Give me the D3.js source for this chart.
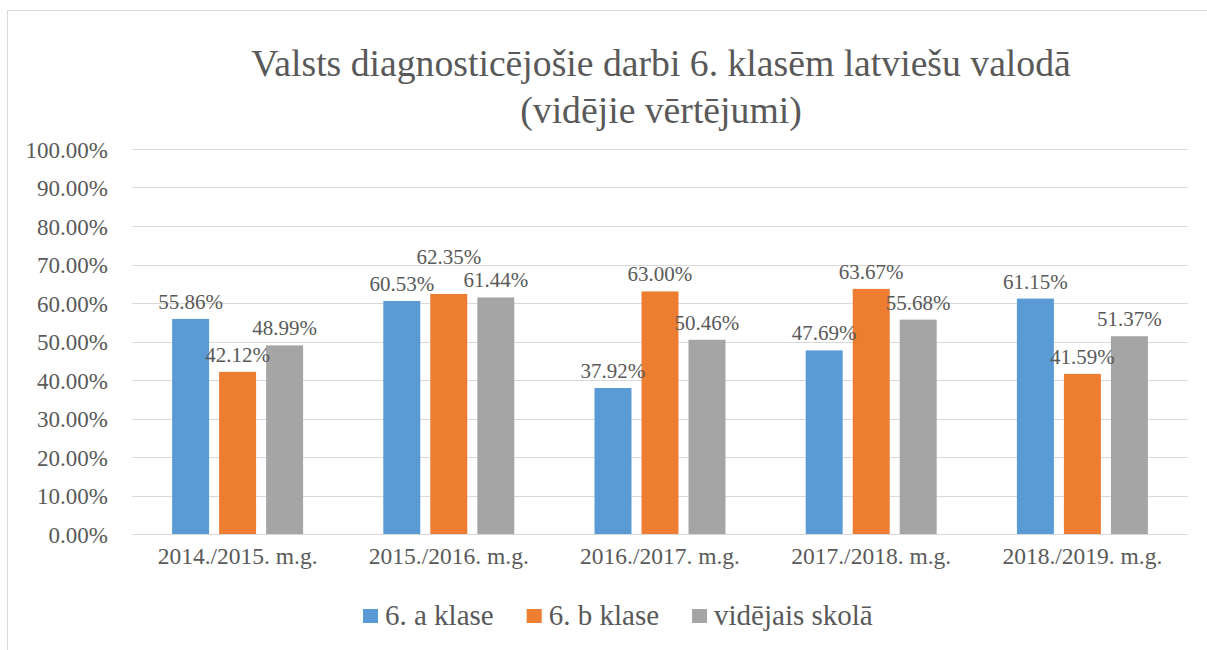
<!DOCTYPE html>
<html>
<head>
<meta charset="utf-8">
<script src="https://cdn.jsdelivr.net/npm/d3@7"></script>
<style>
  body { margin: 0; background: #fff; }
</style>
</head>
<body>
<svg id="chart" width="1207" height="650"></svg>
<script>
// chart data
var years = ["2014./2015. m.g.", "2015./2016. m.g.", "2016./2017. m.g.", "2017./2018. m.g.", "2018./2019. m.g."];
var seriesNames = ["6. a klase", "6. b klase", "vidējais skolā"];
var classA = [55.86, 60.53, 37.92, 47.69, 61.15];
var classB = [42.12, 62.35, 63.00, 63.67, 41.59];
var schoolAvg = [48.99, 61.44, 50.46, 55.68, 51.37];
var yTicks = [0, 10, 20, 30, 40, 50, 60, 70, 80, 90, 100];
var colors = ["#5b9bd5", "#ed7d31", "#a5a5a5"];

var series = [classA, classB, schoolAvg];
var FONT = "'Liberation Serif', 'Times New Roman', Times, serif";
var TXT = "#595959";

var svg = d3.select("#chart");
var margin = { left: 132, right: 19, top: 149, bottom: 116 };
var width = 1207 - margin.left - margin.right,
    height = 650 - margin.top - margin.bottom;

// outer chart border
svg.append("rect")
  .attr("x", 7.5).attr("y", 10.5)
  .attr("width", 1220).attr("height", 660)
  .attr("fill", "none").attr("stroke", "#d9d9d9");

var g = svg.append("g").attr("transform", "translate(" + margin.left + "," + margin.top + ")");

var x0 = d3.scaleBand().domain(years).range([0, width]);
var x1 = d3.scaleBand().domain(d3.range(series.length))
  .range([x0.bandwidth() / 2 - 65.5, x0.bandwidth() / 2 + 65.5]).paddingInner(0.213);
var y = d3.scaleLinear().domain([0, 100]).range([height, 0]);

// gridlines
g.selectAll("line.grid").data(yTicks).enter().append("line")
  .attr("class", "grid")
  .attr("x1", 0).attr("x2", width)
  .attr("y1", function(d) { return Math.round(y(d)) + 0.5; })
  .attr("y2", function(d) { return Math.round(y(d)) + 0.5; })
  .attr("stroke", "#d9d9d9").attr("stroke-width", 1);

// y axis labels
var yAxis = d3.axisLeft(y).tickValues(yTicks).tickSize(0).tickPadding(24)
  .tickFormat(function(d) { return d.toFixed(2) + "%"; });
g.append("g").call(yAxis)
  .call(function(a) { a.select(".domain").remove(); })
  .selectAll("text")
  .style("font-family", FONT).style("font-size", "23px").style("fill", TXT)
  .attr("dy", "0.35em");

// x axis labels
var xAxis = d3.axisBottom(x0).tickSize(0).tickPadding(13);
g.append("g").attr("transform", "translate(0," + height + ")").call(xAxis)
  .call(function(a) { a.select(".domain").remove(); })
  .selectAll("text")
  .style("font-family", FONT).style("font-size", "23.5px").style("fill", TXT)
  .attr("dy", "0.71em");

// bars
var groups = g.selectAll("g.year").data(years).enter().append("g")
  .attr("class", "year")
  .attr("transform", function(d) { return "translate(" + x0(d) + ",0)"; });

function rows(d, i) {
  return series.map(function(s, k) { return { k: k, v: s[i] }; });
}

groups.selectAll("rect").data(rows).enter().append("rect")
  .attr("x", function(d) { return x1(d.k); })
  .attr("width", x1.bandwidth())
  .attr("y", function(d) { return y(d.v); })
  .attr("height", function(d) { return height - y(d.v); })
  .attr("fill", function(d) { return colors[d.k]; });

// data labels: above the bar, lifted when they collide with a neighbour
groups.each(function(yr, i) {
  var grp = d3.select(this);
  var labels = rows(yr, i).map(function(d) {
    return { k: d.k, v: d.v, cx: x1(d.k) + x1.bandwidth() / 2, base: y(d.v) - 10 };
  });
  var lblH = 17, lblW = 64;
  for (var a = 0; a < labels.length; a++) {
    for (var b = 0; b < labels.length; b++) {
      if (a === b) continue;
      var A = labels[a], B = labels[b];
      var overlapX = Math.abs(A.cx - B.cx) < lblW;
      var overlapY = Math.abs(A.base - B.base) < lblH + 4;
      if (overlapX && overlapY && A.v >= B.v) {
        A.base = Math.min(A.base, B.base - lblH - 6);
      }
    }
  }
  grp.selectAll("text.lbl").data(labels).enter().append("text")
    .attr("class", "lbl")
    .attr("x", function(d) { return d.cx; })
    .attr("y", function(d) { return d.base; })
    .attr("text-anchor", "middle")
    .style("font-family", FONT).style("font-size", "21px").style("fill", TXT)
    .text(function(d) { return d.v.toFixed(2) + "%"; });
});

// title
var title = svg.append("text")
  .attr("text-anchor", "middle")
  .style("font-family", FONT).style("font-size", "37.7px").style("fill", TXT);
title.append("tspan").attr("x", margin.left + width / 2 + 1).attr("y", 76)
  .text("Valsts diagnosticējošie darbi 6. klasēm latviešu valodā");
title.append("tspan").attr("x", margin.left + width / 2 + 1).attr("y", 123)
  .text("(vidējie vērtējumi)");

// legend
var legend = svg.append("g").attr("transform", "translate(363,616)");
var lx = 0;
seriesNames.forEach(function(name, k) {
  var item = legend.append("g").attr("transform", "translate(" + lx + ",0)");
  item.append("rect").attr("x", 0).attr("y", -7).attr("width", 15).attr("height", 14)
    .attr("fill", colors[k]);
  var t = item.append("text").attr("x", 22).attr("y", 9)
    .style("font-family", FONT).style("font-size", "29px").style("fill", TXT)
    .text(name);
  lx += 22 + t.node().getComputedTextLength() + 33;
});
</script>
</body>
</html>
